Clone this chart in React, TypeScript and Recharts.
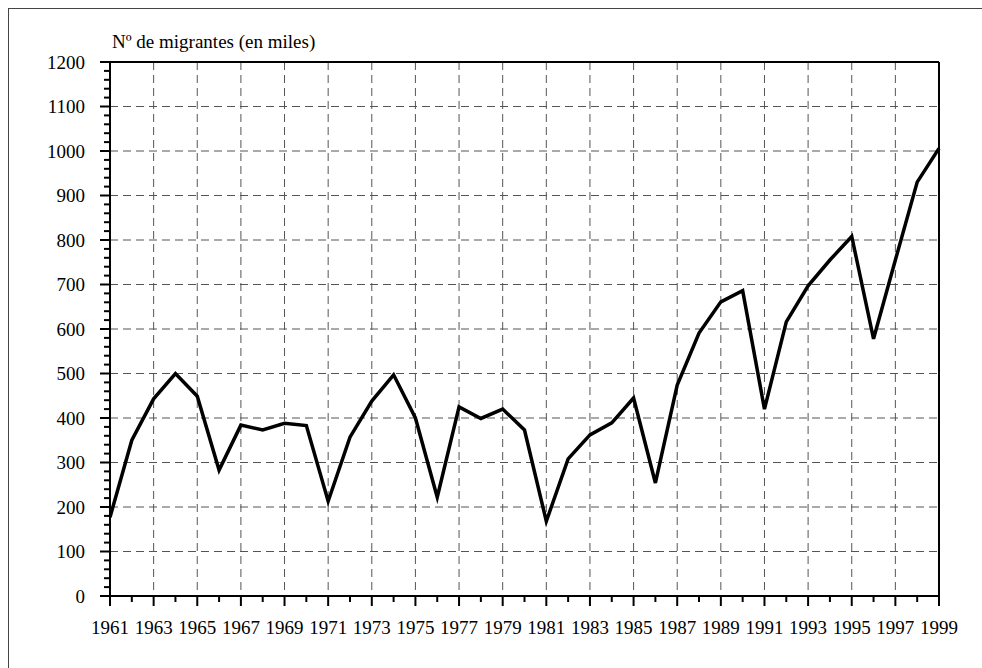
import { LineChart, Line, XAxis, YAxis, CartesianGrid, ReferenceLine } from "recharts";

const years = [
  1961, 1962, 1963, 1964, 1965, 1966, 1967, 1968, 1969, 1970,
  1971, 1972, 1973, 1974, 1975, 1976, 1977, 1978, 1979, 1980,
  1981, 1982, 1983, 1984, 1985, 1986, 1987, 1988, 1989, 1990,
  1991, 1992, 1993, 1994, 1995, 1996, 1997, 1998, 1999,
];

const migrantes = [
  177, 350, 443, 500, 449, 283, 384, 373, 388, 383,
  213, 357, 438, 497, 400, 222, 425, 399, 420, 373,
  168, 308, 362, 389, 445, 254, 474, 591, 661, 686,
  420, 616, 697, 755, 808, 578, 755, 930, 1006,
];

const yLabels = [0, 100, 200, 300, 400, 500, 600, 700, 800, 900, 1000, 1100, 1200];
const gridYears = [1963, 1965, 1967, 1969, 1971, 1973, 1975, 1977, 1979, 1981, 1983, 1985, 1987, 1989, 1991, 1993, 1995, 1997];
const gridValues = [100, 200, 300, 400, 500, 600, 700, 800, 900, 1000, 1100];

// minor ticks every 20 on the y axis
const yTicks: number[] = [];
for (let v = 0; v <= 1200; v += 20) yTicks.push(v);

const data = years.map((year, i) => ({ year, value: migrantes[i] }));

const FONT = "'Liberation Serif', 'Times New Roman', serif";
const FONT_SIZE = 19;

const XTick = (props: any) => {
  const { x, y, payload } = props;
  const major = (payload.value - 1961) % 2 === 0;
  return (
    <g>
      <line x1={x} x2={x} y1={y} y2={y + (major ? 10 : 6)} stroke="#000" strokeWidth={2} />
      {major && (
        <text x={x} y={y + 38} textAnchor="middle" fontSize={FONT_SIZE} fontFamily={FONT} fill="#000">
          {payload.value}
        </text>
      )}
    </g>
  );
};

const YTick = (props: any) => {
  const { x, y, payload } = props;
  const major = yLabels.includes(payload.value);
  return (
    <g>
      <line x1={x - (major ? 10 : 6)} x2={x} y1={y} y2={y} stroke="#000" strokeWidth={2} />
      {major && (
        <text x={x - 25} y={y + 6.5} textAnchor="end" fontSize={FONT_SIZE} fontFamily={FONT} fill="#000">
          {payload.value}
        </text>
      )}
    </g>
  );
};

export default function App() {
  return (
    <>
      <style>{"html,body{margin:0;padding:0;overflow:hidden}"}</style>
      <div
        style={{
          position: "absolute",
          left: 8,
          top: 8,
          width: 973,
          height: 659,
          borderLeft: "1px solid #444",
          borderTop: "1px solid #444",
        }}
      >
        <div
          style={{
            position: "absolute",
            left: 103,
            top: 23,
            fontFamily: FONT,
            fontSize: FONT_SIZE,
            lineHeight: `${FONT_SIZE}px`,
            color: "#000",
            whiteSpace: "nowrap",
          }}
        >
          Nº de migrantes (en miles)
        </div>
        <LineChart
          width={973}
          height={659}
          data={data}
          margin={{ top: 53, right: 43, bottom: 32, left: 0 }}
        >
          <CartesianGrid
            stroke="#555"
            strokeDasharray="8 5"
            syncWithTicks={false}
            horizontalValues={gridValues}
            verticalValues={gridYears}
          />
          <XAxis
            dataKey="year"
            type="number"
            domain={[1961, 1999]}
            ticks={years}
            interval={0}
            height={40}
            tickSize={0}
            tickMargin={0}
            tickLine={false}
            axisLine={{ stroke: "#000", strokeWidth: 2 }}
            tick={<XTick />}
          />
          <YAxis
            type="number"
            domain={[0, 1200]}
            ticks={yTicks}
            interval={0}
            width={101}
            tickSize={0}
            tickMargin={0}
            tickLine={false}
            axisLine={{ stroke: "#000", strokeWidth: 2 }}
            tick={<YTick />}
          />
          <ReferenceLine y={1200} stroke="#000" strokeWidth={2} />
          <ReferenceLine x={1999} stroke="#000" strokeWidth={2} />
          <Line
            type="linear"
            dataKey="value"
            stroke="#000"
            strokeWidth={3.5}
            strokeLinejoin="miter"
            dot={false}
            isAnimationActive={false}
          />
        </LineChart>
      </div>
    </>
  );
}
